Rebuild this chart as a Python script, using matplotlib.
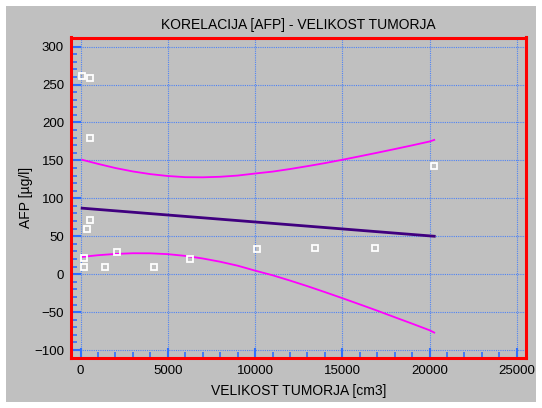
import numpy as np
import matplotlib.pyplot as plt
from matplotlib.patches import Rectangle
from matplotlib.ticker import MultipleLocator

plt.rcParams['font.family'] = ['Liberation Sans', 'DejaVu Sans']

# tocke (velikost tumorja, AFP)
vel_x = [90, 530, 530, 530, 380, 206, 206, 1390, 2110, 4180, 6260, 10100, 13450, 16860, 20270]
afp_y = [261, 259, 179, 71, 60, 21, 9, 9, 29, 9, 20, 33, 35, 35, 143]

# regresijska premica
reg_x = [90, 20270]
reg_y = [87, 50]

# meje intervala zaupanja
band_x = [90, 1000, 2000, 3000, 4000, 5000, 6000, 7000, 8000, 9000, 10000,
          11000, 12000, 13000, 14000, 15000, 16000, 17000, 18000, 19000, 20000, 20270]
band_hi = [150.8, 145.4, 139.9, 135.4, 131.9, 129.4, 127.9, 127.7, 128.4, 130.0, 132.7,
           135.2, 138.6, 142.4, 146.4, 150.8, 155.4, 160.1, 164.9, 169.8, 174.9, 177]
band_lo = [22.8, 25.0, 26.7, 27.6, 27.5, 26.4, 24.1, 20.7, 16.4, 11.2, 4.7,
           -1.4, -8.4, -15.8, -23.6, -31.6, -39.8, -48.1, -56.7, -65.2, -73.9, -77]

gray = '#c0c0c0'
blue = '#2f6fff'

fig = plt.figure(figsize=(5.42, 4.08), dpi=100, facecolor='white')
fig.patches.append(Rectangle((6 / 542, 6 / 408), 530 / 542, 396 / 408,
                             transform=fig.transFigure, facecolor=gray,
                             edgecolor='none', zorder=-10))

ax = fig.add_axes([71 / 542, 50 / 408, 454.5 / 542, 320.5 / 408])
ax.set_facecolor(gray)

ax.plot(band_x, band_hi, color='#ff00ff', lw=1.3)
ax.plot(band_x, band_lo, color='#ff00ff', lw=1.3)
ax.plot(reg_x, reg_y, color='#40007f', lw=2)
ax.plot(vel_x, afp_y, ls='none', marker='s', ms=4.5, mfc='none',
        mec='white', mew=1.3)

ax.set_xlim(-550, 25500)
ax.set_ylim(-110.5, 312)
ax.xaxis.set_major_locator(MultipleLocator(5000))
ax.xaxis.set_minor_locator(MultipleLocator(1000))
ax.yaxis.set_major_locator(MultipleLocator(50))
ax.yaxis.set_minor_locator(MultipleLocator(10))

ax.grid(True, which='major', color='#3a78ff', ls=(0, (1, 1)), lw=0.8, alpha=0.85)
ax.tick_params(which='major', direction='in', length=7, width=1.5, color=blue,
               labelsize=9.5, pad=5)
ax.tick_params(which='minor', direction='in', length=4.5, width=1.2, color=blue)

for s in ax.spines.values():
    s.set_color('#ff0000')
    s.set_linewidth(2.2)

ax.set_title('KORELACIJA [AFP] - VELIKOST TUMORJA', fontsize=10, pad=6)
ax.set_xlabel('VELIKOST TUMORJA [cm3]', fontsize=10, labelpad=5)
ax.set_ylabel('AFP [µg/l]', fontsize=10, labelpad=1)

fig.savefig('out.png', dpi=100, facecolor='white')
